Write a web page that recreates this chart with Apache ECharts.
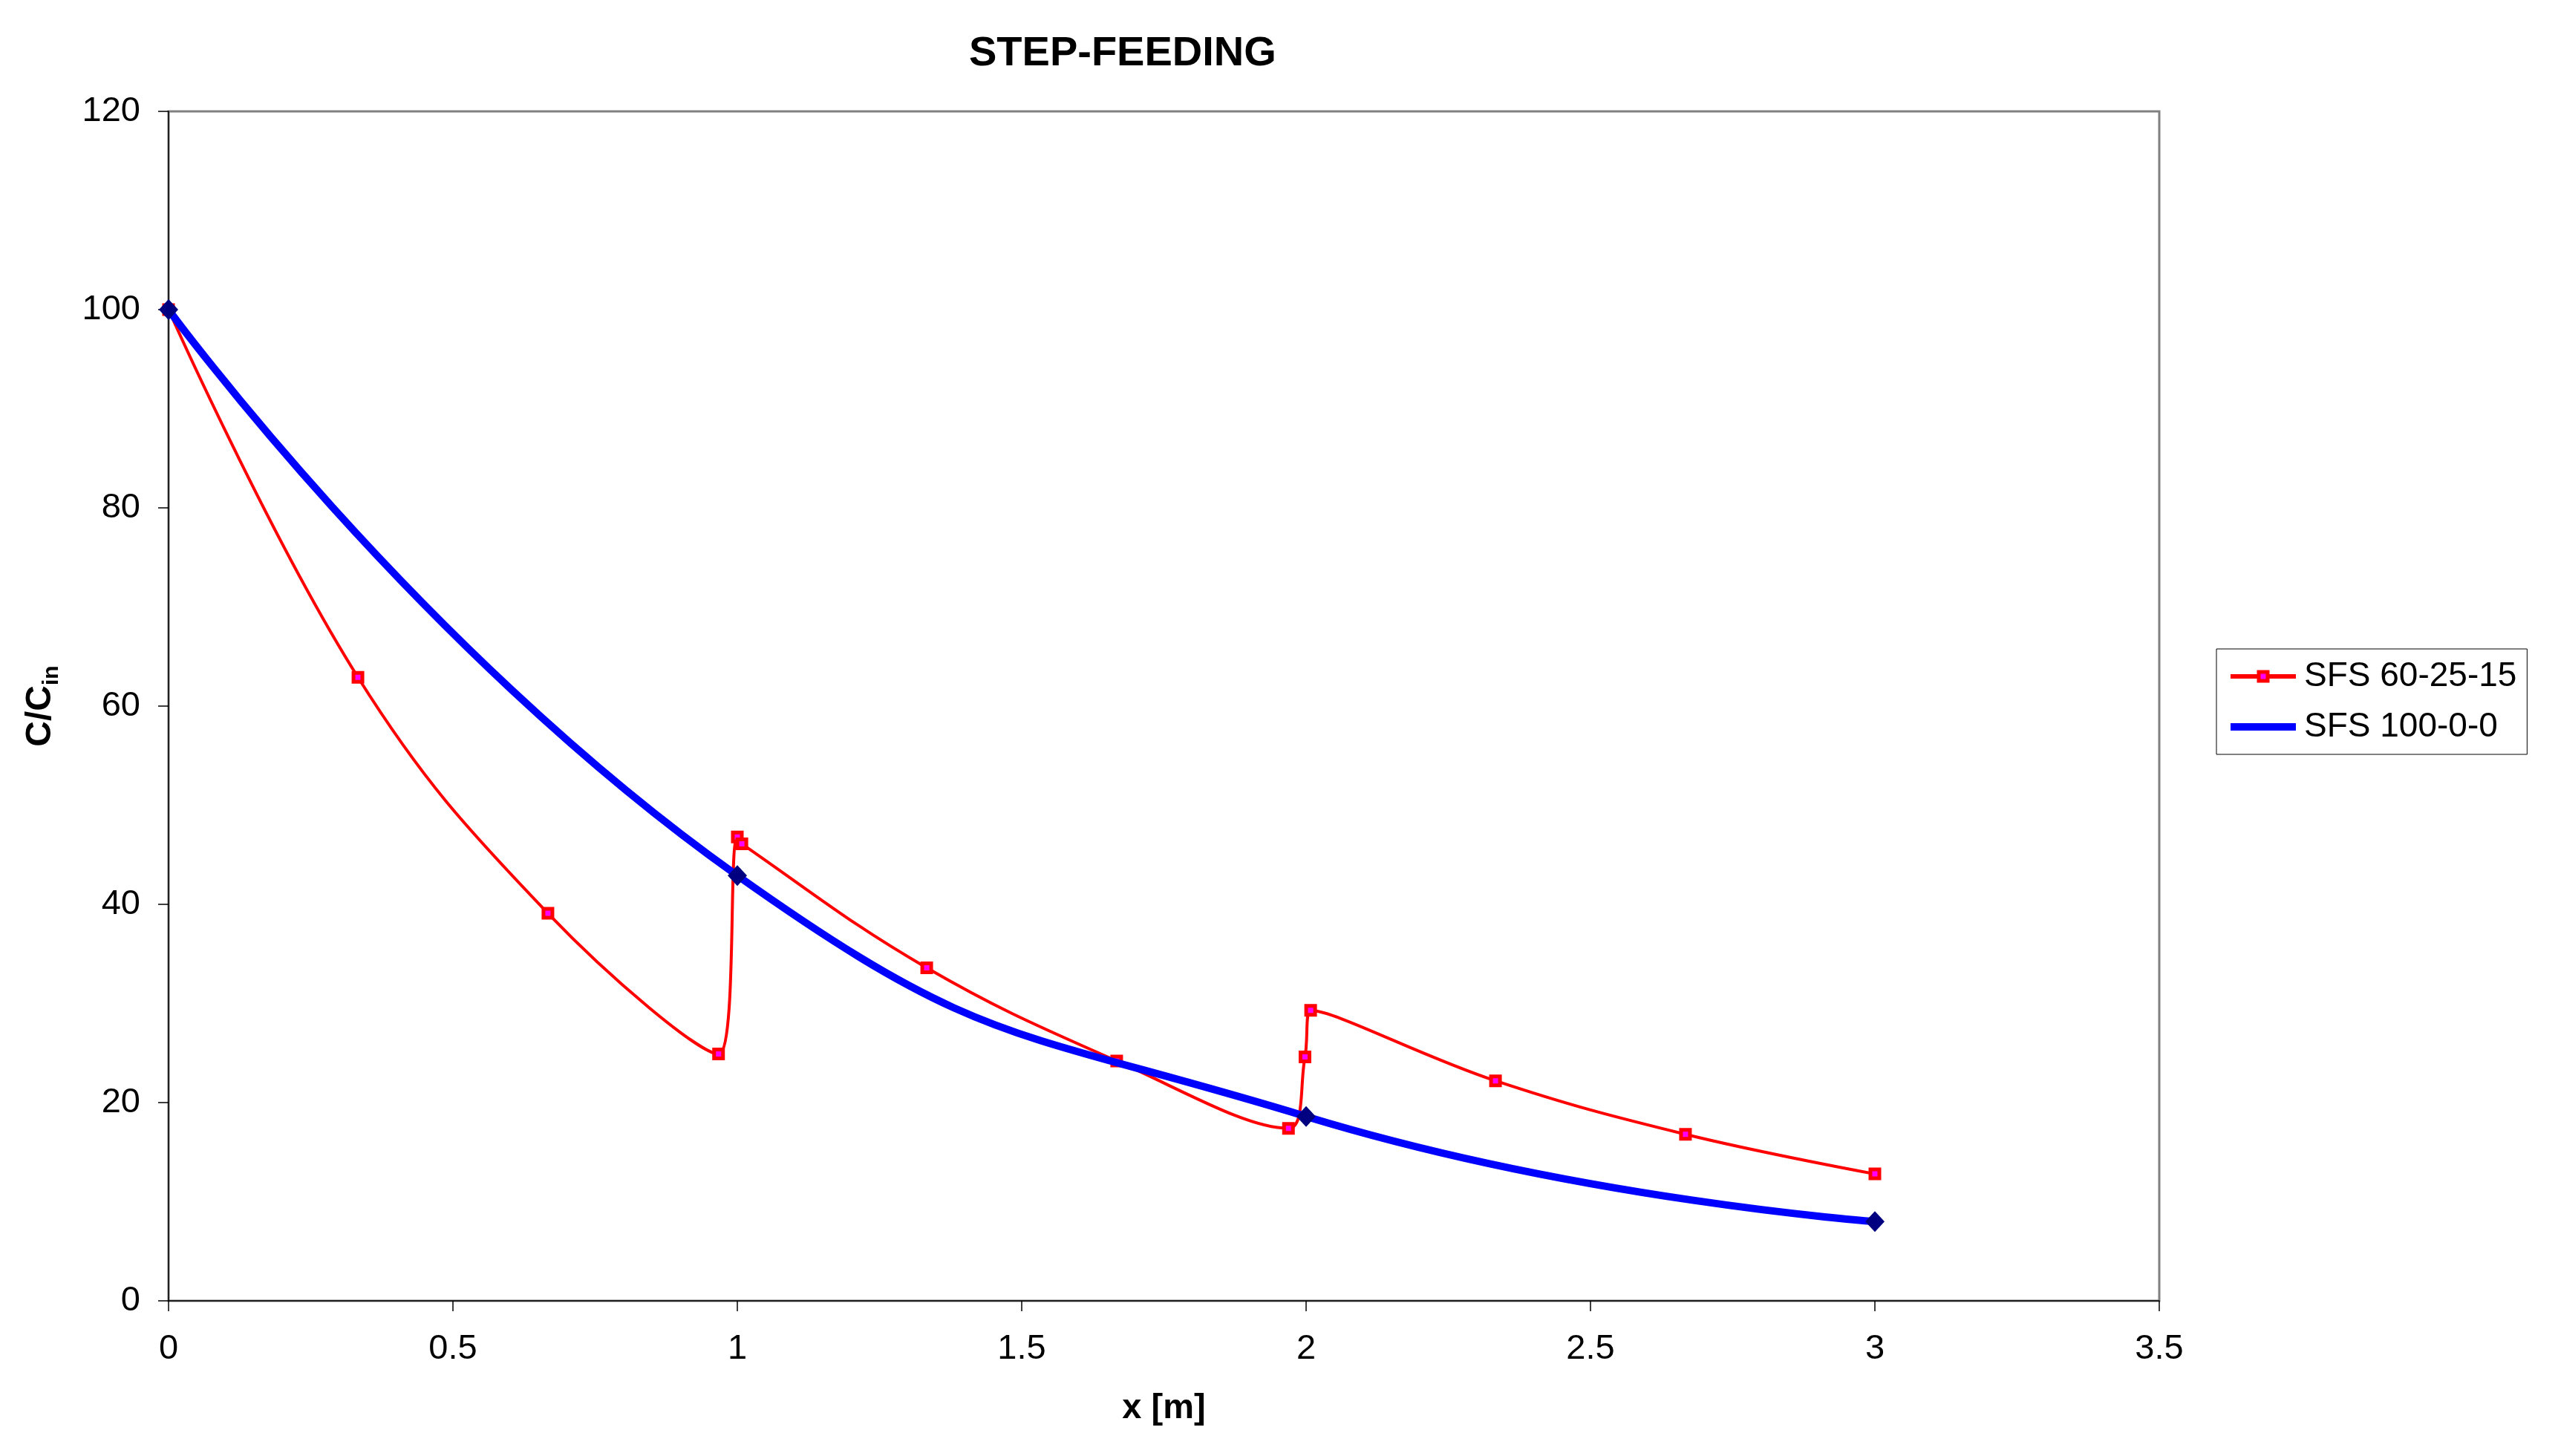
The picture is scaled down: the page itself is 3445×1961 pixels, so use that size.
<!DOCTYPE html>
<html>
<head>
<meta charset="utf-8">
<script src="https://cdn.jsdelivr.net/npm/echarts@6/dist/echarts.min.js"></script>
<style>
html,body{margin:0;padding:0;background:#fff;}
#chart{width:3445px;height:1961px;}
</style>
</head>
<body>
<div id="chart"></div>
<script>
// ---- data ----
const titleText = 'STEP-FEEDING';
const xAxisName = 'x [m]';
const seriesNames = ['SFS 60-25-15', 'SFS 100-0-0'];
const sfs602515X = [0, 0.333, 0.667, 0.967, 1.0, 1.008, 1.333, 1.667, 1.969, 1.998, 2.008, 2.333, 2.667, 3.0];
const sfs602515Y = [100, 62.9, 39.1, 24.9, 46.8, 46.1, 33.6, 24.2, 17.4, 24.6, 29.3, 22.2, 16.8, 12.8];
const sfs10000X = [0, 1, 2, 3];
const sfs10000Y = [100, 42.9, 18.6, 8.0];

const pairs = (xs, ys) => xs.map((x, i) => [x, ys[i]]);
const FONT = '"Liberation Sans", Arial, sans-serif';

const chart = echarts.init(document.getElementById('chart'), null, {renderer: 'canvas'});
chart.setOption({
  backgroundColor: '#ffffff',
  animation: false,
  title: {
    text: titleText,
    left: 1300, top: 40,
    textStyle: {fontFamily: FONT, fontSize: 56, fontWeight: 'bold', color: '#000'}
  },
  grid: {
    left: 227, right: 537, top: 150, bottom: 209,
    show: true, borderColor: '#808080', borderWidth: 3, backgroundColor: '#fff'
  },
  legend: {
    orient: 'vertical',
    left: 2985, top: 874,
    data: [
      {name: seriesNames[0],
       itemStyle: {color: '#FF00FF', borderColor: '#FF0000', borderWidth: 5},
       lineStyle: {color: '#FF0000', width: 6}},
      {name: seriesNames[1],
       itemStyle: {opacity: 0},
       lineStyle: {color: '#0000FF', width: 10}}
    ],
    padding: [14, 14, 14, 14],
    itemGap: 22,
    itemWidth: 88, itemHeight: 15,
    borderColor: '#000', borderWidth: 1, backgroundColor: '#fff',
    textStyle: {fontFamily: FONT, fontSize: 46, color: '#000', padding: [0, 0, 0, 6]}
  },
  xAxis: {
    type: 'value', min: 0, max: 3.5, interval: 0.5,
    name: xAxisName, nameLocation: 'middle', nameGap: 122,
    nameTextStyle: {fontFamily: FONT, fontSize: 47, fontWeight: 'bold', color: '#000'},
    axisLine: {show: true, onZero: false, lineStyle: {color: '#000', width: 1.5}},
    axisTick: {show: true, length: 14, lineStyle: {color: '#000', width: 1.5}},
    axisLabel: {fontFamily: FONT, fontSize: 47, color: '#000', margin: 42},
    splitLine: {show: false}
  },
  yAxis: {
    type: 'value', min: 0, max: 120, interval: 20,
    name: '{a|C/C}{b|in}', nameLocation: 'middle', nameGap: 142,
    nameTextStyle: {
      rich: {
        a: {fontFamily: FONT, fontSize: 48, fontWeight: 'bold', color: '#000', lineHeight: 60, verticalAlign: 'middle'},
        b: {fontFamily: FONT, fontSize: 30, fontWeight: 'bold', color: '#000', lineHeight: 30, verticalAlign: 'bottom'}
      }
    },
    axisLine: {show: true, onZero: false, lineStyle: {color: '#000', width: 1.5}},
    axisTick: {show: true, length: 14, lineStyle: {color: '#000', width: 1.5}},
    axisLabel: {fontFamily: FONT, fontSize: 47, color: '#000', margin: 38},
    splitLine: {show: false}
  },
  series: [
    {
      name: seriesNames[0],
      type: 'line',
      data: pairs(sfs602515X, sfs602515Y),
      smooth: 0.4,
      symbol: 'rect', symbolSize: 12,
      itemStyle: {color: '#FF00FF', borderColor: '#FF0000', borderWidth: 5},
      lineStyle: {color: '#FF0000', width: 4},
      z: 2
    },
    {
      name: seriesNames[1],
      type: 'line',
      data: pairs(sfs10000X, sfs10000Y),
      smooth: 0.5,
      showSymbol: false, symbol: 'none',
      itemStyle: {color: '#0000FF'},
      lineStyle: {color: '#0000FF', width: 10},
      z: 3
    },
    {
      name: 'markers-100-0-0',
      type: 'scatter',
      data: pairs(sfs10000X, sfs10000Y),
      symbol: 'diamond', symbolSize: [26, 28],
      itemStyle: {color: '#000080', opacity: 1},
      z: 4
    }
  ]
});
</script>
</body>
</html>
